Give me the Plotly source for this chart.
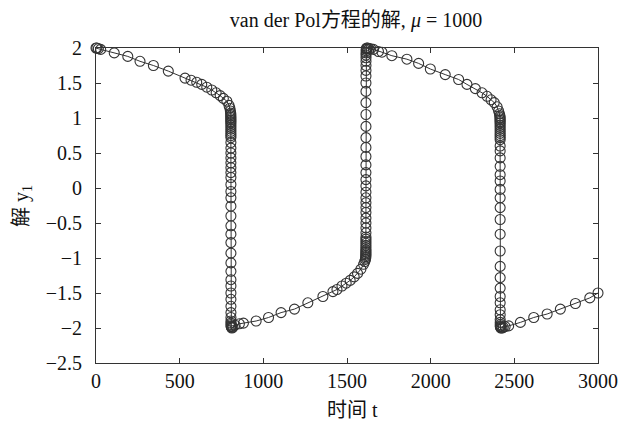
import plotly.graph_objects as go

# --- Data (ode15s output, van der Pol, mu = 1000) ---
# slow branch 1 (y decreasing from 2)
t_slow1 = [0, 5, 14, 28, 109, 190, 263, 343, 432, 532, 568, 602, 632, 662, 692,
           718, 742, 761, 782, 795, 800, 803, 805]
y_slow1 = [2.00, 2.00, 1.99, 1.98, 1.93, 1.88, 1.81, 1.75, 1.67, 1.57, 1.54, 1.51,
           1.48, 1.44, 1.40, 1.36, 1.32, 1.28, 1.24, 1.18, 1.14, 1.10, 1.07]
# fast jump 1 (down)
t_jump1 = [805.5, 805.7, 805.8, 805.9, 806.0, 806.0, 806.0, 806.1, 806.1, 806.1,
           806.1, 806.1, 806.1, 806.2, 806.2, 806.2, 806.2, 806.2, 806.2, 806.2,
           806.2, 806.2, 806.2, 806.2, 806.2, 806.2, 806.2, 806.2, 806.2, 806.2,
           806.3, 806.3, 806.3, 806.3, 806.3, 806.3, 806.3, 806.4, 806.4, 806.5,
           806.6, 806.8, 807.0, 807.5, 808.0, 809.0]
y_jump1 = [1.05, 1.03, 1.01, 0.99, 0.97, 0.95, 0.93, 0.90, 0.87, 0.84, 0.81, 0.78,
           0.75, 0.72, 0.65, 0.57, 0.50, 0.43, 0.36, 0.29, 0.22, 0.15, 0.05, -0.05,
           -0.14, -0.26, -0.40, -0.54, -0.66, -0.78, -0.93, -1.07, -1.19, -1.31,
           -1.40, -1.50, -1.59, -1.69, -1.78, -1.85, -1.90, -1.93, -1.95, -1.97,
           -1.98, -1.99]
# slow branch 2 (y rising from -2)
t_slow2 = [812, 818, 831, 857, 881, 957, 1031, 1106, 1186, 1266, 1356, 1416, 1440,
           1470, 1495, 1519, 1543, 1563, 1583, 1599, 1606, 1610, 1612]
y_slow2 = [-2.00, -1.99, -1.96, -1.94, -1.93, -1.90, -1.85, -1.78, -1.73, -1.64,
           -1.55, -1.48, -1.45, -1.40, -1.36, -1.32, -1.27, -1.22, -1.16, -1.09,
           -1.05, -1.02, -1.00]
# fast jump 2 (up)
t_jump2 = [1612.5, 1612.7, 1612.8, 1612.9, 1613.0, 1613.0, 1613.0, 1613.1, 1613.1,
           1613.1, 1613.1, 1613.1, 1613.2, 1613.2, 1613.2, 1613.2, 1613.2, 1613.2,
           1613.2, 1613.2, 1613.2, 1613.2, 1613.2, 1613.2, 1613.2, 1613.2, 1613.2,
           1613.3, 1613.3, 1613.3, 1613.3, 1613.3, 1613.3, 1613.3, 1613.4, 1613.4,
           1613.5, 1613.6, 1613.8, 1614.0, 1614.5, 1615.0, 1616.0]
y_jump2 = [-0.98, -0.96, -0.94, -0.92, -0.90, -0.88, -0.85, -0.82, -0.79, -0.76,
           -0.73, -0.70, -0.64, -0.57, -0.50, -0.43, -0.35, -0.28, -0.21, -0.14,
           -0.06, 0.03, 0.12, 0.22, 0.33, 0.45, 0.58, 0.72, 0.88, 1.05, 1.22, 1.38,
           1.50, 1.60, 1.68, 1.75, 1.81, 1.86, 1.90, 1.93, 1.96, 1.98, 1.99]
# slow branch 3 (y decreasing from 2)
t_slow3 = [1618, 1624, 1632, 1642, 1658, 1688, 1709, 1768, 1858, 1928, 1998, 2087,
           2167, 2217, 2267, 2307, 2337, 2361, 2380, 2397, 2406, 2411, 2414]
y_slow3 = [2.00, 2.00, 1.99, 1.99, 1.98, 1.95, 1.94, 1.89, 1.84, 1.78, 1.70, 1.62,
           1.55, 1.48, 1.42, 1.36, 1.31, 1.26, 1.22, 1.16, 1.10, 1.06, 1.03]
# fast jump 3 (down)
t_jump3 = [2414.5, 2414.7, 2414.8, 2414.9, 2415.0, 2415.0, 2415.0, 2415.1, 2415.1,
           2415.1, 2415.1, 2415.1, 2415.2, 2415.2, 2415.2, 2415.2, 2415.2, 2415.2,
           2415.2, 2415.2, 2415.2, 2415.2, 2415.2, 2415.2, 2415.2, 2415.3, 2415.3,
           2415.3, 2415.3, 2415.3, 2415.4, 2415.4, 2415.5, 2415.6, 2415.8, 2416.0,
           2416.5, 2417.0]
y_jump3 = [1.01, 0.99, 0.97, 0.95, 0.93, 0.90, 0.87, 0.84, 0.81, 0.78, 0.75, 0.72,
           0.69, 0.60, 0.53, 0.43, 0.31, 0.19, 0.10, -0.02, -0.14, -0.28, -0.45,
           -0.66, -0.90, -1.12, -1.28, -1.43, -1.55, -1.64, -1.74, -1.81, -1.88,
           -1.92, -1.95, -1.97, -1.98, -1.99]
# slow branch 4 (y rising from -2)
t_slow4 = [2420, 2426, 2434, 2445, 2466, 2536, 2616, 2696, 2775, 2865, 2951, 3000]
y_slow4 = [-2.00, -2.00, -1.99, -1.98, -1.97, -1.92, -1.85, -1.80, -1.73, -1.65,
           -1.57, -1.50]

x_ticks = [0, 500, 1000, 1500, 2000, 2500, 3000]
y_ticks = [2, 1.5, 1, 0.5, 0, -0.5, -1, -1.5, -2, -2.5]

t_all = t_slow1 + t_jump1 + t_slow2 + t_jump2 + t_slow3 + t_jump3 + t_slow4
y_all = y_slow1 + y_jump1 + y_slow2 + y_jump2 + y_slow3 + y_jump3 + y_slow4

FONT = "Liberation Serif, Times New Roman, Noto Sans CJK SC, serif"
INK = "#333333"
TXT = "#111111"

# plot area in pixels (from the reference)
L, R, T, B = 96, 23, 48, 61
W, H = 621, 424
PW, PH = W - L - R, H - T - B

fig = go.Figure()
fig.add_trace(go.Scatter(
    x=t_all, y=y_all, mode="lines+markers",
    line=dict(color=INK, width=1),
    marker=dict(symbol="circle-open", size=10, color=INK, line=dict(width=1.1, color=INK)),
    showlegend=False, hoverinfo="skip", cliponaxis=False,
))

axis_common = dict(
    showgrid=False, zeroline=False, showline=True, linecolor="#333333", linewidth=1,
    mirror="ticks", ticks="inside", ticklen=5, tickcolor="#333333",
    tickfont=dict(family=FONT, size=20, color=TXT), automargin=False,
)
fig.update_xaxes(range=[0, 3000], tickvals=x_ticks, **axis_common)
fig.update_yaxes(range=[-2.5, 2], tickvals=y_ticks, ticklabelstandoff=9, **axis_common)

fig.update_layout(
    width=W, height=H,
    margin=dict(l=L, r=R, t=T, b=B, autoexpand=False),
    paper_bgcolor="white", plot_bgcolor="white",
    title=dict(text="van der Pol方程的解, <i>μ</i> = 1000",
               font=dict(family=FONT, size=20, color=TXT),
               x=356 / W, xref="container", xanchor="center",
               y=1 - 20 / H, yref="container", yanchor="middle", automargin=False),
    annotations=[
        dict(text="时间 t", x=(352 - L) / PW, xref="paper", y=-(410 - (H - B)) / PH,
             yref="paper", yanchor="middle", xanchor="center", showarrow=False,
             font=dict(family=FONT, size=20, color=TXT)),
        dict(text="解 y<sub>1</sub>", x=(22 - L) / PW, xref="paper",
             y=(H - B - 206) / PH, yref="paper",
             xanchor="center", yanchor="middle", showarrow=False, textangle=-90,
             font=dict(family=FONT, size=20, color=TXT)),
    ],
)

fig.write_html("out.html", config={"displayModeBar": False},
               post_script="document.body.style.margin='0';document.body.style.overflow='hidden';")
